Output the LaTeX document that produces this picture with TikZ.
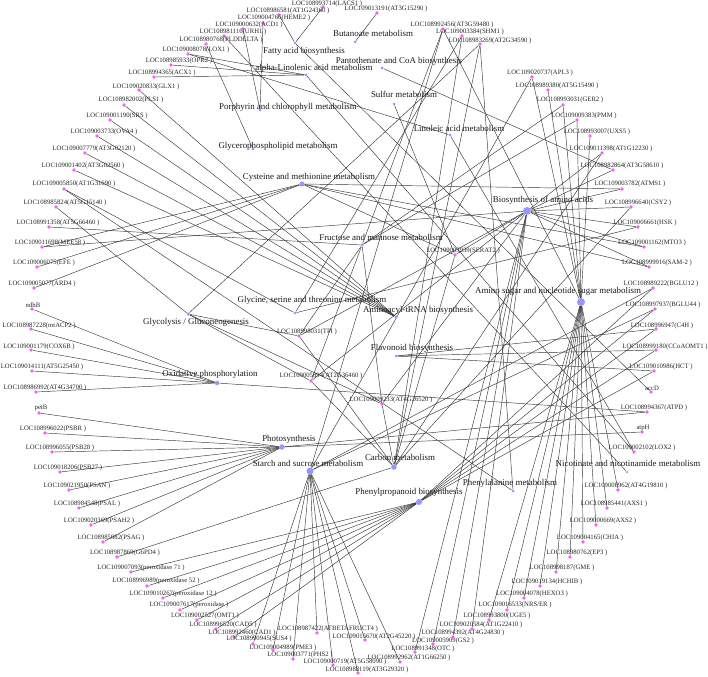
\documentclass[tikz,border=0pt]{standalone}
\usepackage{fontspec}
\setmainfont{Liberation Serif}
\usetikzlibrary{backgrounds}
\definecolor{genepink}{RGB}{255,90,255}
\definecolor{pathblue}{RGB}{150,150,255}
\definecolor{edgegray}{RGB}{55,55,55}

\begin{document}
\begin{tikzpicture}[x = 1pt, y = -1pt,
    gene/.style = {shape = circle, fill = genepink, minimum size = 3.6pt, inner sep = 0pt},
    pway/.style = {shape = circle, fill = pathblue, minimum size = #1, inner sep = 0pt},
    pway/.default = 3pt,
    glab/.style = {inner sep = 0pt, text = black!85, font = \fontsize{6.7}{7}\selectfont},
    plab/.style = {inner sep = 0pt, text = black!90, font = \fontsize{8.9}{10}\selectfont},
    link/.style = {draw = edgegray, line width = 0.45pt}]
        \useasboundingbox (0,0) rectangle (708,676);

        % pathways
        \node [pway] (fab) at (295,43) {};
        \node [plab] (fab-l) at (304,51) {Fatty acid biosynthesis};
        \node [pway] (buta) at (355,42) {};
        \node [plab] (buta-l) at (373,33) {Butanoate metabolism};
        \node [pway] (pant) at (382,68) {};
        \node [plab] (pant-l) at (399,61) {Pantothenate and CoA biosynthesis};
        \node [pway] (alin) at (306,75) {};
        \node [plab] (alin-l) at (314,68) {alpha-Linolenic acid metabolism};
        \node [pway] (sulf) at (394,104) {};
        \node [plab] (sulf-l) at (404,94) {Sulfur metabolism};
        \node [pway] (porph) at (260,110) {};
        \node [plab] (porph-l) at (288,107) {Porphyrin and chlorophyll metabolism};
        \node [pway] (lin) at (450,135) {};
        \node [plab] (lin-l) at (459,128) {Linoleic acid metabolism};
        \node [pway] (gpl) at (253,149) {};
        \node [plab] (gpl-l) at (278,146) {Glycerophospholipid metabolism};
        \node [pway=5pt] (cys) at (302,184) {};
        \node [plab] (cys-l) at (309,177) {Cysteine and methionine metabolism};
        \node [pway=8pt] (baa) at (527,211) {};
        \node [plab] (baa-l) at (543,200) {Biosynthesis of amino acids};
        \node [pway=3.5pt] (fru) at (362,245) {};
        \node [plab] (fru-l) at (381,237) {Fructose and mannose metabolism};
        \node [pway] (gly) at (295,313) {};
        \node [plab] (gly-l) at (312,300) {Glycine, serine and threonine metabolism};
        \node [pway=3.5pt] (trna) at (396,317) {};
        \node [plab] (trna-l) at (418,310) {Aminoacyl-tRNA biosynthesis};
        \node [pway=3.5pt] (glyco) at (188,314) {};
        \node [plab] (glyco-l) at (196,322) {Glycolysis / Gluconeogenesis};
        \node [pway=4.5pt] (oxph) at (217,383) {};
        \node [plab] (oxph-l) at (210,374) {Oxidative phosphorylation};
        \node [pway] (flav) at (396,356) {};
        \node [plab] (flav-l) at (412,348) {Flavonoid biosynthesis};
        \node [pway=5.5pt] (photo) at (282,447) {};
        \node [plab] (photo-l) at (289,439) {Photosynthesis};
        \node [pway=7pt] (starch) at (310,471) {};
        \node [plab] (starch-l) at (308,463) {Starch and sucrose metabolism};
        \node [pway=5.5pt] (carbon) at (394,467) {};
        \node [plab] (carbon-l) at (400,457) {Carbon metabolism};
        \node [pway=6pt] (phpr) at (419,502) {};
        \node [plab] (phpr-l) at (409,492) {Phenylpropanoid biosynthesis};
        \node [pway] (phe) at (513,491) {};
        \node [plab] (phe-l) at (510,483) {Phenylalanine metabolism};
        \node [pway=2.5pt] (nico) at (627,472) {};
        \node [plab] (nico-l) at (628,463) {Nicotinate and nicotinamide metabolism};
        \node [pway=8pt] (amino) at (581,302) {};
        \node [plab] (amino-l) at (558,291) {Amino sugar and nucleotide sugar metabolism};

        % genes, top and left
        \node [gene] (lacs1) at (323,7) {};
        \node [glab] (lacs1-l) at (327,4) {LOC108993714(LACS1 )};
        \node [gene] (at1g24360) at (279,15) {};
        \node [glab] (at1g24360-l) at (288,11) {LOC108986581(AT1G24360 )};
        \node [gene] (heme2) at (263,23) {};
        \node [glab] (heme2-l) at (274,18) {LOC109004766(HEME2 )};
        \node [gene] (acd1) at (243,29) {};
        \node [glab] (acd1-l) at (249,25) {LOC109000632(ACD1 )};
        \node [gene] (urh1) at (224,36) {};
        \node [glab] (urh1-l) at (233,32) {LOC108981116(URH1 )};
        \node [gene] (plddelta) at (206,44) {};
        \node [glab] (plddelta-l) at (221,40) {LOC108980768(PLDDELTA )};
        \node [gene] (lox1) at (188,54) {};
        \node [glab] (lox1-l) at (196,50) {LOC109008078(LOX1 )};
        \node [gene] (opr2) at (171,65) {};
        \node [glab] (opr2-l) at (179,61) {LOC108985933(OPR2 )};
        \node [gene] (acx1) at (154,77) {};
        \node [glab] (acx1-l) at (162,73) {LOC108994365(ACX1 )};
        \node [gene] (glx1) at (139,90) {};
        \node [glab] (glx1-l) at (146,87) {LOC109020833(GLX1 )};
        \node [gene] (pls1) at (124,105) {};
        \node [glab] (pls1-l) at (131,100) {LOC108982002(PLS1 )};
        \node [gene] (srs) at (110,120) {};
        \node [glab] (srs-l) at (117,116) {LOC109001190(SRS )};
        \node [gene] (ova4) at (97,136) {};
        \node [glab] (ova4-l) at (104,132) {LOC109003733(OVA4 )};
        \node [gene] (at3g02120) at (85,153) {};
        \node [glab] (at3g02120-l) at (94,149) {LOC109007779(AT3G02120 )};
        \node [gene] (at3g02560) at (74,170) {};
        \node [glab] (at3g02560-l) at (83,166) {LOC109001402(AT3G02560 )};
        \node [gene] (at1g31690) at (64,189) {};
        \node [glab] (at1g31690-l) at (74,184) {LOC109005850(AT1G31690 )};
        \node [gene] (at5g15140) at (56,207) {};
        \node [glab] (at5g15140-l) at (65,203) {LOC108985824(AT5G15140 )};
        \node [gene] (at5g66460) at (49,227) {};
        \node [glab] (at5g66460-l) at (58,223) {LOC108991358(AT5G66460 )};
        \node [gene] (mee58) at (42,247) {};
        \node [glab] (mee58-l) at (50,243) {LOC109011698(MEE58 )};
        \node [gene] (efe) at (37,267) {};
        \node [glab] (efe-l) at (44,263) {LOC109006075(EFE )};
        \node [gene] (ard4) at (34,288) {};
        \node [glab] (ard4-l) at (42,284) {LOC109005077(ARD4 )};
        \node [gene] (ndhb) at (32,309) {};
        \node [glab] (ndhb-l) at (33,305) {ndhB};
        \node [gene] (mtacp2) at (31,329) {};
        \node [glab] (mtacp2-l) at (39,326) {LOC108987228(mtACP2 )};
        \node [gene] (cox6b) at (31,350) {};
        \node [glab] (cox6b-l) at (39,347) {LOC109001179(COX6B )};
        \node [gene] (at5g25450) at (32,371) {};
        \node [glab] (at5g25450-l) at (42,367) {LOC109014111(AT5G25450 )};
        \node [gene] (at4g34700) at (36,392) {};
        \node [glab] (at4g34700-l) at (45,388) {LOC108986992(AT4G34700 )};
        \node [gene] (petb) at (39,413) {};
        \node [glab] (petb-l) at (41,408) {petB};
        \node [gene] (psbr) at (45,433) {};
        \node [glab] (psbr-l) at (53,429) {LOC108996022(PSBR )};
        \node [gene] (psb28) at (52,452) {};
        \node [glab] (psb28-l) at (60,448) {LOC108996055(PSB28 )};
        \node [gene] (psb27) at (60,472) {};
        \node [glab] (psb27-l) at (68,468) {LOC109018206(PSB27 )};
        \node [gene] (psan) at (69,490) {};
        \node [glab] (psan-l) at (77,486) {LOC109021950(PSAN )};
        \node [gene] (psal) at (79,508) {};
        \node [glab] (psal-l) at (87,504) {LOC108984548(PSAL )};
        \node [gene] (psah2) at (91,525) {};
        \node [glab] (psah2-l) at (99,521) {LOC109020369(PSAH2 )};
        \node [gene] (psag) at (103,542) {};
        \node [glab] (psag-l) at (111,538) {LOC108985982(PSAG )};
        \node [gene] (g6pd4) at (117,557) {};
        \node [glab] (g6pd4-l) at (125,553) {LOC108987869(G6PD4 )};

        % genes, bottom
        \node [gene] (prx71) at (131,572) {};
        \node [glab] (prx71-l) at (141,568) {LOC109007093(peroxidase 71 )};
        \node [gene] (prx52) at (147,586) {};
        \node [glab] (prx52-l) at (156,581) {LOC108996989(peroxidase 52 )};
        \node [gene] (prx12) at (163,598) {};
        \node [glab] (prx12-l) at (173,594) {LOC109010267(peroxidase 12 )};
        \node [gene] (prx) at (180,610) {};
        \node [glab] (prx-l) at (189,605) {LOC109007617(peroxidase )};
        \node [gene] (omt1) at (197,620) {};
        \node [glab] (omt1-l) at (205,616) {LOC109002527(OMT1 )};
        \node [gene] (cad5) at (216,629) {};
        \node [glab] (cad5-l) at (223,625) {LOC108996520(CAD5 )};
        \node [gene] (cad1) at (234,637) {};
        \node [glab] (cad1-l) at (242,633) {LOC108992460(CAD1 )};
        \node [gene] (sus4) at (253,644) {};
        \node [glab] (sus4-l) at (259,639) {LOC108990945(SUS4 )};
        \node [gene] (pme3) at (273,650) {};
        \node [glab] (pme3-l) at (283,647.5) {LOC109004989(PME3 )};
        \node [gene] (phs2) at (293,659) {};
        \node [glab] (phs2-l) at (300,655) {LOC109003771(PHS2 )};
        \node [gene] (at5g58090) at (333,665) {};
        \node [glab] (at5g58090-l) at (345,662) {LOC109000719(AT5G58090 )};
        \node [gene] (at3g29320) at (358,673) {};
        \node [glab] (at3g29320-l) at (367,669.5) {LOC108988119(AT3G29320 )};
        \node [gene] (fruct4) at (317,633) {};
        \node [glab] (fruct4-l) at (328,629) {LOC108987422(ATBETAFRUCT4 )};
        \node [gene] (at2g45220) at (365,640) {};
        \node [glab] (at2g45220-l) at (374,637) {LOC109015670(AT2G45220 )};
        \node [gene] (otc) at (415,652) {};
        \node [glab] (otc-l) at (423,649) {LOC108991348(OTC )};
        \node [gene] (at1g66250) at (400,662) {};
        \node [glab] (at1g66250-l) at (409,658) {LOC108992962(AT1G66250 )};
        \node [gene] (gs2) at (433,644) {};
        \node [glab] (gs2-l) at (443,641) {LOC109005909(GS2 )};
        \node [gene] (at4g24830) at (453,637) {};
        \node [glab] (at4g24830-l) at (463,633) {LOC108994392(AT4G24830 )};
        \node [gene] (at1g22410) at (472,629) {};
        \node [glab] (at1g22410-l) at (481,625) {LOC109020584(AT1G22410 )};
        \node [gene] (uge5) at (489,620) {};
        \node [glab] (uge5-l) at (497,616) {LOC108993800(UGE5 )};
        \node [gene] (nrser) at (507,610) {};
        \node [glab] (nrser-l) at (515,605) {LOC109016533(NRS/ER )};
        \node [gene] (hexo3) at (524,598) {};
        \node [glab] (hexo3-l) at (532,594) {LOC109004078(HEXO3 )};
        \node [gene] (hchib) at (540,586) {};
        \node [glab] (hchib-l) at (547,582) {LOC109019134(HCHIB )};
        \node [gene] (gme) at (556,572) {};
        \node [glab] (gme-l) at (562,568) {LOC108998187(GME )};
        \node [gene] (ep3) at (570,557) {};
        \node [glab] (ep3-l) at (577,553) {LOC108980762(EP3 )};
        \node [gene] (chia) at (583,542) {};
        \node [glab] (chia-l) at (590,538) {LOC109004165(CHIA )};
        \node [gene] (axs2) at (596,525) {};
        \node [glab] (axs2-l) at (603,521) {LOC109000669(AXS2 )};
        \node [gene] (axs1) at (607,508) {};
        \node [glab] (axs1-l) at (614,504) {LOC108985441(AXS1 )};
        \node [gene] (at4g19810) at (618,490) {};
        \node [glab] (at4g19810-l) at (626,486) {LOC109000962(AT4G19810 )};

        % genes, right and top
        \node [gene] (lox2) at (634,452) {};
        \node [glab] (lox2-l) at (642,448) {LOC109002102(LOX2 )};
        \node [gene] (atph) at (642,432) {};
        \node [glab] (atph-l) at (643,428) {atpH};
        \node [gene] (atpd) at (647,412) {};
        \node [glab] (atpd-l) at (654,408) {LOC108994367(ATPD )};
        \node [gene] (accd) at (651,392) {};
        \node [glab] (accd-l) at (652,388) {accD};
        \node [gene] (hct) at (654,371) {};
        \node [glab] (hct-l) at (661,367) {LOC109010986(HCT )};
        \node [gene] (ccoaomt1) at (656,350) {};
        \node [glab] (ccoaomt1-l) at (665,347) {LOC108999180(CCoAOMT1 )};
        \node [gene] (c4h) at (656,329) {};
        \node [glab] (c4h-l) at (662,326) {LOC108996947(C4H )};
        \node [gene] (bglu44) at (655,309) {};
        \node [glab] (bglu44-l) at (663,305) {LOC108997937(BGLU44 )};
        \node [gene] (bglu12) at (653,288) {};
        \node [glab] (bglu12-l) at (661,284) {LOC108989222(BGLU12 )};
        \node [gene] (sam2) at (649,267) {};
        \node [glab] (sam2-l) at (657,263) {LOC108999916(SAM-2 )};
        \node [gene] (mto3) at (644,247) {};
        \node [glab] (mto3-l) at (652,243) {LOC109001162(MTO3 )};
        \node [gene] (hsk) at (638,227) {};
        \node [glab] (hsk-l) at (645,223) {LOC109006661(HSK )};
        \node [gene] (csy2) at (631,207) {};
        \node [glab] (csy2-l) at (638,203) {LOC108996640(CSY2 )};
        \node [gene] (atms1) at (622,189) {};
        \node [glab] (atms1-l) at (630,184) {LOC109003782(ATMS1 )};
        \node [gene] (at3g58610) at (613,170) {};
        \node [glab] (at3g58610-l) at (622,166) {LOC108982864(AT3G58610 )};
        \node [gene] (at1g12230) at (602,153) {};
        \node [glab] (at1g12230-l) at (611,149) {LOC109011398(AT1G12230 )};
        \node [gene] (uxs5) at (590,136) {};
        \node [glab] (uxs5-l) at (597,132) {LOC108993007(UXS5 )};
        \node [gene] (pmm) at (577,120) {};
        \node [glab] (pmm-l) at (584,116) {LOC109009383(PMM )};
        \node [gene] (ger2) at (563,105) {};
        \node [glab] (ger2-l) at (570,100) {LOC108993031(GER2 )};
        \node [gene] (at5g15490) at (548,90) {};
        \node [glab] (at5g15490-l) at (557,86) {LOC108989380(AT5G15490 )};
        \node [gene] (apl3) at (532,77) {};
        \node [glab] (apl3-l) at (540,73) {LOC109020737(APL3 )};
        \node [gene] (at2g34590) at (480,44) {};
        \node [glab] (at2g34590-l) at (490,41) {LOC108983269(AT2G34590 )};
        \node [gene] (shm1) at (462,36) {};
        \node [glab] (shm1-l) at (470,32) {LOC109003384(SHM1 )};
        \node [gene] (at3g59480) at (443,29) {};
        \node [glab] (at3g59480-l) at (452,25) {LOC108992456(AT3G59480 )};
        \node [gene] (at3g15290) at (377,13) {};
        \node [glab] (at3g15290-l) at (386,9) {LOC109013191(AT3G15290 )};

        % genes, middle
        \node [gene] (tpi) at (299,336) {};
        \node [glab] (tpi-l) at (307,332) {LOC108998031(TPI )};
        \node [gene] (at2g36460) at (311,381) {};
        \node [glab] (at2g36460-l) at (321,376) {LOC109005894(AT2G36460 )};
        \node [gene] (at4g26520) at (382,404) {};
        \node [glab] (at4g26520-l) at (391,400) {LOC109009233(AT4G26520 )};
        \node [gene] (serat2) at (455,255) {};
        \node [glab] (serat2-l) at (463,251) {LOC109003939(SERAT2 )};

        % links
        \begin{scope}[on background layer]
        \foreach \g in {lacs1, at1g24360, accd} {\draw [link] (fab) -- (\g);}
        \draw [link] (buta) -- (at3g15290);
        \draw [link] (pant) -- (at3g58610);
        \foreach \g in {lox1, opr2, acx1, lox2} {\draw [link] (alin) -- (\g);}
        \foreach \g in {lox1, lox2} {\draw [link] (lin) -- (\g);}
        \foreach \g in {heme2, acd1} {\draw [link] (porph) -- (\g);}
        \draw [link] (sulf) -- (serat2);
        \draw [link] (gpl) -- (plddelta);
        \foreach \g in {mee58, efe, ard4, atms1, serat2, mto3, sam2} {\draw [link] (cys) -- (\g);}
        \foreach \g in {shm1, hsk, at1g31690} {\draw [link] (gly) -- (\g);}
        \foreach \g in {at5g66460, pmm, ger2, at3g59480, tpi, at2g36460, at4g26520} {\draw [link] (fru) -- (\g);}
        \foreach \g in {at5g15140, tpi, at2g36460, at4g26520, at2g34590} {\draw [link] (glyco) -- (\g);}
        \foreach \g in {glx1, pls1, srs, ova4, at3g02120, at3g02560} {\draw [link] (trna) -- (\g);}
        \foreach \g in {ndhb, mtacp2, cox6b, at5g25450, at4g34700, atpd} {\draw [link] (oxph) -- (\g);}
        \foreach \g in {c4h, ccoaomt1, hct} {\draw [link] (flav) -- (\g);}
        \foreach \g in {petb, psbr, psb28, psb27, psan, psal, psah2, psag, atpd, atph} {\draw [link] (photo) -- (\g);}
        \foreach \g in {sus4, pme3, phs2, at5g58090, at3g29320, fruct4, at2g45220, at1g66250, bglu12, bglu44, apl3, at3g59480} {\draw [link] (starch) -- (\g);}
        \foreach \g in {g6pd4, tpi, at2g36460, at4g26520, at2g34590, shm1, csy2, at1g12230, serat2} {\draw [link] (carbon) -- (\g);}
        \foreach \g in {prx71, prx52, prx12, prx, omt1, cad5, cad1, bglu12, bglu44, c4h, ccoaomt1, hct} {\draw [link] (phpr) -- (\g);}
        \foreach \g in {at1g31690, at2g34590} {\draw [link] (phe) -- (\g);}
        \draw [link] (nico) -- (urh1);
        \foreach \g in {uxs5, pmm, ger2, at5g15490, apl3, at3g59480, at4g19810, axs1, axs2, chia, ep3, gme, hchib, hexo3, nrser, uge5} {\draw [link] (amino) -- (\g);}
        \foreach \g in {mee58, mto3, sam2, hsk, atms1, csy2, at3g58610, at1g12230, serat2, tpi, at2g36460, at4g26520, otc, gs2, at4g24830, at1g22410} {\draw [link] (baa) -- (\g);}
        \end{scope}
\end{tikzpicture}
\end{document}
